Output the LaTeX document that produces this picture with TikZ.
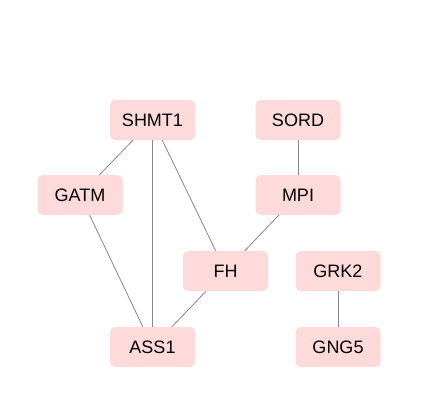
\documentclass[tikz,border=0pt]{standalone}
\usepackage{fontspec}
\setmainfont{Liberation Sans}
\definecolor{nodefill}{HTML}{FFDADA}
\definecolor{edgegray}{HTML}{888888}
\begin{document}
\begin{tikzpicture}[x=1pt,y=-1pt,
  gene/.style={rectangle, rounded corners=5pt, fill=nodefill, draw=none,
    minimum width=85pt, minimum height=40pt, inner sep=0pt,
    font=\fontsize{18}{21}\selectfont, text=black},
  link/.style={draw=edgegray, line width=0.8pt}]
\useasboundingbox (0,0) rectangle (421,402);
\node[gene] (SHMT1) at (152.5,120) {SHMT1};
\node[gene] (SORD) at (298,120) {SORD};
\node[gene] (GATM) at (80,195) {GATM};
\node[gene] (MPI) at (298,195) {MPI};
\node[gene] (FH) at (225.5,271) {FH};
\node[gene] (GRK2) at (338,271) {GRK2};
\node[gene] (ASS1) at (152.5,347) {ASS1};
\node[gene] (GNG5) at (338,347) {GNG5};
\draw[link] (SHMT1) -- (GATM);
\draw[link] (SHMT1) -- (ASS1);
\draw[link] (SHMT1) -- (FH);
\draw[link] (GATM) -- (ASS1);
\draw[link] (FH) -- (ASS1);
\draw[link] (MPI) -- (FH);
\draw[link] (SORD) -- (MPI);
\draw[link] (GRK2) -- (GNG5);
\end{tikzpicture}
\end{document}
